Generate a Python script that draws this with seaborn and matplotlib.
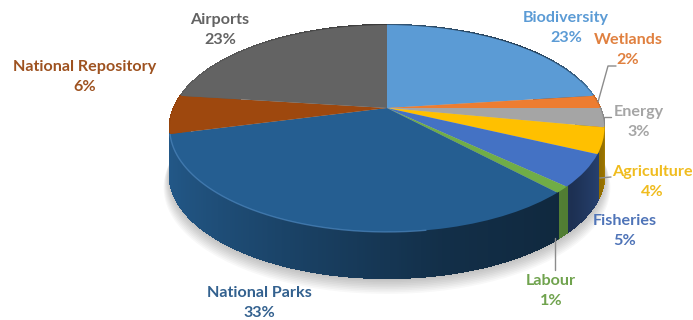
import numpy as np
import matplotlib
matplotlib.use("Agg")
import matplotlib.pyplot as plt
from matplotlib.collections import PolyCollection
from matplotlib.patches import Circle
from matplotlib.transforms import Transform
import seaborn as sns

categories = ["Biodiversity", "Wetlands", "Energy", "Agriculture", "Fisheries",
              "Labour", "National Parks", "National Repository", "Airports"]
shares = [23, 2, 3, 4, 5, 1, 33, 6, 23]
slice_colors = ["#5b9bd5", "#ed7d31", "#a5a5a5", "#ffc000", "#4472c4",
                "#70ad47", "#255e91", "#9e480e", "#636363"]
label_colors = ["#5b9bd5", "#e0803f", "#a5a5a5", "#f0bc1e", "#4f74b8",
                "#70a34e", "#33618f", "#9e5220", "#636363"]
label_centers = [(566, 28), (628, 50), (639, 122), (652, 182), (625, 231),
                 (551, 291), (259, 303), (85, 77), (220, 30)]
leader_lines = [[(598, 102), (608, 66), (616, 66)],
                [(603, 117), (611, 117)],
                [(600, 178), (611, 177)],
                [(555, 238), (555, 270)]]

CENTER_X, CENTER_Y = 387.0, 108.0
RADIUS_X, RADIUS_Y, TILT = 213.0, 99.4, 0.198
DEPTH = 46.0


class TiltedDisc(Transform):
    """Projects the unit disc of the pie onto a receding plane, in pixels."""
    input_dims = 2
    output_dims = 2
    is_separable = False
    has_inverse = False

    def __init__(self, drop=0.0):
        super().__init__()
        self.drop = drop

    def transform_non_affine(self, values):
        values = np.asarray(values, dtype=float)
        w = 1 + TILT * values[:, 1]
        x = CENTER_X + RADIUS_X * values[:, 0] / w
        y = CENTER_Y - RADIUS_Y * values[:, 1] / w + self.drop
        return np.column_stack([x, y])


def side_shade(u):
    # The wall gets darker towards the front right, then catches light at the edge.
    return np.interp(u, [-1.0, -0.3, 0.2, 0.75, 0.95, 1.0],
                     [0.95, 0.68, 0.50, 0.42, 0.60, 0.85])


sns.set_theme(style="white")
plt.rcParams["font.family"] = ["Lato", "DejaVu Sans"]
palette = sns.color_palette(slice_colors)

fig = plt.figure(figsize=(6.93, 3.2), dpi=100, facecolor="white")
ax = fig.add_axes([0, 0, 1, 1])

wedges, _ = ax.pie(shares, colors=palette, startangle=90, counterclock=False,
                   wedgeprops={"linewidth": 0})
ax.set_aspect("auto")
ax.set_xlim(0, 693)
ax.set_ylim(320, 0)
ax.axis("off")

top_face = TiltedDisc()
for wedge in wedges:
    wedge.set_transform(top_face + ax.transData)
    wedge.set_zorder(3)

# Soft shadow under the disc
for step in range(10):
    halo = Circle((0, 0), 1.0 + 0.003 * step, facecolor="black", edgecolor="none",
                  alpha=0.028, zorder=1,
                  transform=TiltedDisc(DEPTH + 1 + 1.2 * step) + ax.transData)
    ax.add_patch(halo)

# Outer wall, and the light rim along the front of the national parks slice
bottom_face = TiltedDisc(DEPTH)
edges = 90 - 3.6 * np.concatenate([[0], np.cumsum(shares)])
quads, quad_colors, quad_depth = [], [], []
for i, color in enumerate(palette):
    steps = max(6, shares[i] * 8)
    angles = np.radians(np.linspace(edges[i], edges[i + 1], steps + 1))
    ring = np.column_stack([np.cos(angles), np.sin(angles)])
    upper = top_face.transform(ring)
    lower = bottom_face.transform(ring)
    # The thin green slice reads brighter on the wall than its neighbours
    lift = 1.7 if categories[i] == "Labour" else 1.0
    for k in range(steps):
        quads.append([upper[k], upper[k + 1], lower[k + 1], lower[k]])
        u_mid = ring[k:k + 2, 0].mean()
        quad_colors.append(np.clip(np.array(color) * side_shade(u_mid) * lift, 0, 1))
        quad_depth.append(ring[k:k + 2, 1].mean())
    if categories[i] == "National Parks":
        front = (ring[:, 0] < 0.15) & (ring[:, 0] > -0.97)
        ax.plot(upper[front, 0], upper[front, 1], color="#4d86bd", lw=1.0,
                alpha=0.7, solid_capstyle="butt", zorder=4)

order = np.argsort(quad_depth)[::-1]
walls = PolyCollection([quads[j] for j in order],
                       facecolors=[quad_colors[j] for j in order],
                       edgecolors=[quad_colors[j] for j in order],
                       linewidths=1.0, antialiaseds=False, zorder=2)
ax.add_collection(walls)

for path in leader_lines:
    xs, ys = zip(*path)
    ax.plot(xs, ys, color="#8c8c8c", lw=1.0, zorder=5)

for name, share, color, (x, y) in zip(categories, shares, label_colors, label_centers):
    ax.text(x, y, f"{name}\n{share}%", color=color, fontsize=11.6, fontweight="bold",
            ha="center", va="center", linespacing=1.55, zorder=6)

fig.savefig("out.png", dpi=100, facecolor="white")
